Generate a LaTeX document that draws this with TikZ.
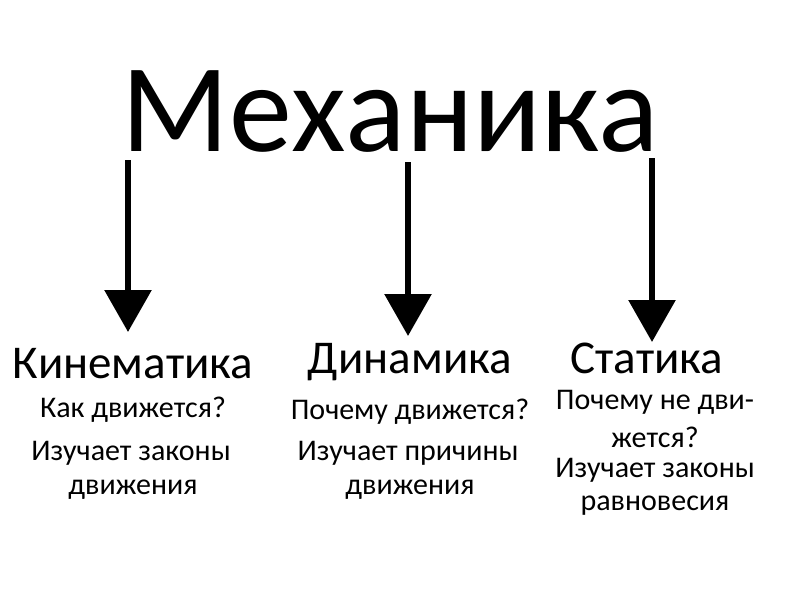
\documentclass[tikz,border=0pt]{standalone}
\usepackage{fontspec}
\setmainfont{Carlito}
\usetikzlibrary{arrows.meta}
\begin{document}
\begin{tikzpicture}[x=1pt,y=-1pt,
  big/.style={font=\fontsize{47}{50}\selectfont},
  small/.style={font=\fontsize{30}{32}\selectfont},
  arr/.style={line width=6pt,-{Triangle[length=42pt,width=46pt]}}]
\useasboundingbox[fill=white] (0,0) rectangle (800,600);
\node[font=\fontsize{126}{140}\selectfont] (t) at (390,112) {Механика};
\coordinate (a1) at (128,160); \coordinate (b1) at (128,332);
\coordinate (a2) at (408,162); \coordinate (b2) at (408,336);
\coordinate (a3) at (652,158); \coordinate (b3) at (652,342);
\draw[arr] (a1) -- (b1);
\draw[arr] (a2) -- (b2);
\draw[arr] (a3) -- (b3);
\node[big] (k) at (133,364) {Кинематика};
\node[small] (k1) at (133,410) {Как движется?};
\node[small] (k2) at (131,453) {Изучает законы};
\node[small] (k3) at (133,490) {движения};
\node[big] (d) at (410,362) {Динамика};
\node[small] (d1) at (410,412) {Почему движется?};
\node[small] (d2) at (408,453) {Изучает причины};
\node[small] (d3) at (410,490) {движения};
\node[big] (s) at (647,358) {Статика};
\node[small] (s1) at (655,402) {Почему не дви-};
\node[small] (s2) at (655,437) {жется?};
\node[small] (s3) at (655,470) {Изучает законы};
\node[small] (s4) at (655,506) {равновесия};
\end{tikzpicture}
\end{document}
